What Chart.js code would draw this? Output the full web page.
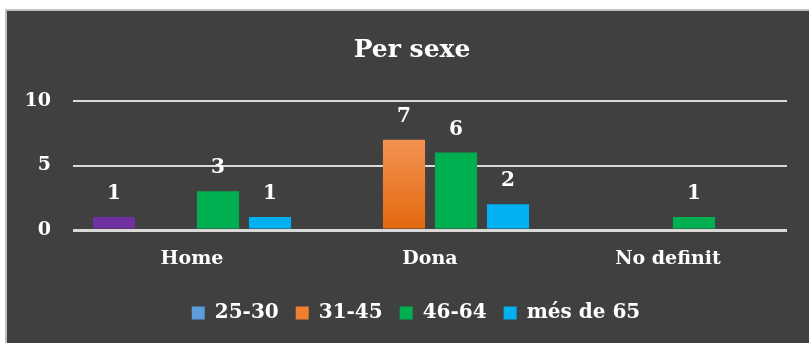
<!DOCTYPE html>
<html>
<head>
<meta charset="utf-8">
<script src="https://cdn.jsdelivr.net/npm/chart.js@4.4.1/dist/chart.umd.min.js"></script>
<style>
  html, body { margin: 0; padding: 0; background: #fff; }
  #frame {
    position: absolute; left: 5px; top: 9px;
    width: 802px; height: 332px;
    border-left: 2px solid #bfbfbf; border-top: 2px solid #bfbfbf;
    background: #404040;
  }
  #frame canvas { display: block; }
</style>
</head>
<body>
<div id="frame"><canvas id="sexChart" width="802" height="332"></canvas></div>
<script>
// data
const categories = ['Home', 'Dona', 'No definit'];
const ageGroups = ['25-30', '31-45', '46-64', 'més de 65'];
const age25to30 = [1, null, null];
const age31to45 = [null, 7, null];
const age46to64 = [3, 6, 1];
const ageOver65 = [1, 2, null];
const yTicks = [0, 5, 10];

const fontFamily = '"DejaVu Serif", serif';
const colors = {
    purple: '#7030A0',
    blue: '#5E9DDB',
    orange: '#F07F30',
    green: '#00B050',
    cyan: '#00B0F0',
    grid: '#d9d9d9',
    text: '#ffffff'
};
const legendColors = [colors.blue, colors.orange, colors.green, colors.cyan];

function orangeFill(context) {
    const area = context.chart.chartArea;
    if (!area) return colors.orange;
    const g = context.chart.ctx.createLinearGradient(0, area.top, 0, area.bottom);
    g.addColorStop(0, '#FAA56F');
    g.addColorStop(1, '#E3680E');
    return g;
}

// numbers on top of the bars
const valueLabels = {
    id: 'valueLabels',
    afterDatasetsDraw(chart) {
        const ctx = chart.ctx;
        ctx.save();
        ctx.font = 'bold 20px ' + fontFamily;
        ctx.fillStyle = colors.text;
        ctx.textAlign = 'center';
        ctx.textBaseline = 'alphabetic';
        chart.data.datasets.forEach((ds, i) => {
            chart.getDatasetMeta(i).data.forEach((bar, j) => {
                const v = ds.data[j];
                if (v === null || v === undefined) return;
                ctx.fillText(String(v), bar.x, bar.y - 18);
            });
        });
        ctx.restore();
    }
};

// the original chart is a bit wider than the crop, so title and legend sit right of the plot centre
const shiftBoxes = {
    id: 'shiftBoxes',
    afterLayout(chart) {
        if (chart.titleBlock) { chart.titleBlock.left += 15; chart.titleBlock.right += 15; }
        if (chart.legend) { chart.legend.left += 19; chart.legend.right += 19; }
    }
};

const ctx = document.getElementById('sexChart').getContext('2d');
new Chart(ctx, {
    type: 'bar',
    data: {
        labels: categories,
        datasets: [
            { label: ageGroups[0], data: age25to30, backgroundColor: [colors.purple, colors.purple, colors.purple] },
            { label: ageGroups[1], data: age31to45, backgroundColor: orangeFill },
            { label: ageGroups[2], data: age46to64, backgroundColor: colors.green },
            { label: ageGroups[3], data: ageOver65, backgroundColor: colors.cyan }
        ]
    },
    options: {
        responsive: false,
        animation: false,
        barPercentage: 0.81,
        categoryPercentage: 0.874,
        layout: { padding: { top: 0, right: 22, bottom: 10, left: 0 } },
        plugins: {
            title: {
                display: true,
                text: 'Per sexe',
                color: colors.text,
                font: { family: fontFamily, size: 25, weight: 'bold' },
                padding: { top: 24, bottom: 36 }
            },
            legend: {
                position: 'bottom',
                labels: {
                    color: colors.text,
                    font: { family: fontFamily, size: 20, weight: 'bold' },
                    boxWidth: 13,
                    boxHeight: 13,
                    padding: 17,
                    generateLabels(chart) {
                        const items = Chart.defaults.plugins.legend.labels.generateLabels(chart);
                        items.forEach((item, i) => {
                            item.fillStyle = legendColors[i];
                            item.strokeStyle = legendColors[i];
                            item.lineWidth = 0;
                        });
                        return items;
                    }
                }
            },
            tooltip: { enabled: false }
        },
        scales: {
            x: {
                grid: { display: false },
                border: { display: false },
                ticks: {
                    color: colors.text,
                    font: { family: fontFamily, size: 19, weight: 'bold' },
                    padding: 10
                },
                afterFit(scale) { scale.height = 56; }
            },
            y: {
                min: yTicks[0],
                max: yTicks[yTicks.length - 1],
                afterBuildTicks(scale) { scale.ticks = yTicks.map(v => ({ value: v })); },
                grid: {
                    color: colors.grid,
                    lineWidth: c => (c.tick && c.tick.value === 0 ? 3 : 2),
                    drawTicks: false
                },
                border: { display: false },
                ticks: {
                    color: colors.text,
                    font: { family: fontFamily, size: 19, weight: 'bold' },
                    padding: 22
                },
                afterFit(scale) { scale.width = 66; }
            }
        }
    },
    plugins: [valueLabels, shiftBoxes]
});
</script>
</body>
</html>
